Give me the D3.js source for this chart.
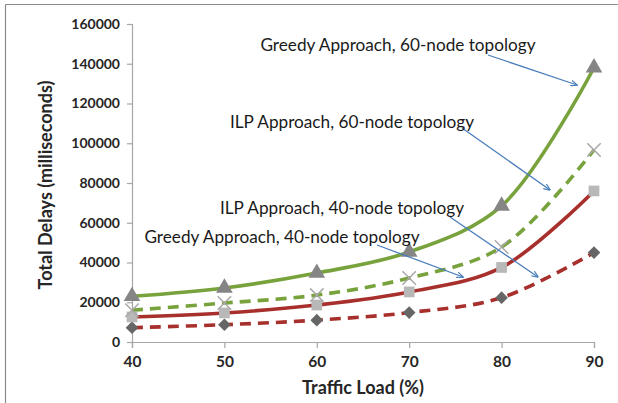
<!DOCTYPE html>
<html><head><meta charset="utf-8">
<script src="https://cdn.jsdelivr.net/npm/d3@7"></script>
<style>body{margin:0;background:#fff}svg{display:block}</style>
</head><body>
<svg id="c" width="618" height="403"></svg>
<script>
const loads = [40, 50, 60, 70, 80, 90];
const greedy60 = [23000, 27200, 34700, 45300, 68500, 138000];
const ilp60 = [16000, 19600, 23600, 32200, 47800, 96600];
const ilp40 = [12600, 14600, 18600, 25200, 37500, 76000];
const greedy40 = [7200, 8700, 11000, 14800, 22300, 45000];
const yTicks = [0, 20000, 40000, 60000, 80000, 100000, 120000, 140000, 160000];
const labels = [
  {text: "Greedy Approach, 60-node topology", series: "g60"},
  {text: "ILP Approach, 60-node topology", series: "i60"},
  {text: "ILP Approach, 40-node topology", series: "i40"},
  {text: "Greedy Approach, 40-node topology", series: "g40"}
];

const series = [
  {id: "g60", values: greedy60, color: "#78a23c", dash: null, marker: "triangle", mcolor: "#858585"},
  {id: "i60", values: ilp60, color: "#78a23c", dash: "11,7", marker: "x", mcolor: "#a8a8a8"},
  {id: "i40", values: ilp40, color: "#a8302c", dash: null, marker: "square", mcolor: "#b8b8b8"},
  {id: "g40", values: greedy40, color: "#a8302c", dash: "11,7", marker: "diamond", mcolor: "#666666"}
];

const svg = d3.select("#c");
const font = "Lato, 'Open Sans', sans-serif";

// frame (top and left edges)
svg.append("line").attr("x1", 5.5).attr("y1", 4.5).attr("x2", 618).attr("y2", 4.5).attr("stroke", "#8a8a8a").attr("stroke-width", 1.2);
svg.append("line").attr("x1", 5.5).attr("y1", 4.5).attr("x2", 5.5).attr("y2", 403).attr("stroke", "#8a8a8a").attr("stroke-width", 1.2);

const x = d3.scaleLinear().domain([40, 90]).range([132, 594]);
const y = d3.scaleLinear().domain([0, 160000]).range([342, 24]);

const yAxis = svg.append("g").attr("transform", "translate(132,0)")
  .call(d3.axisLeft(y).tickValues(yTicks).tickSize(5).tickPadding(7).tickFormat(d3.format("d")));
const xAxis = svg.append("g").attr("transform", "translate(0,342)")
  .call(d3.axisBottom(x).tickValues(loads).tickSize(6).tickPadding(8).tickFormat(d3.format("d")));
[yAxis, xAxis].forEach(a => {
  a.selectAll(".domain, .tick line").attr("stroke", "#a6a6a6").attr("stroke-width", 1.2);
  a.selectAll("text").attr("font-family", font).attr("font-weight", "bold").attr("fill", "#262626");
});
yAxis.selectAll("text").attr("font-size", 14);
xAxis.selectAll("text").attr("font-size", 15.5);

svg.append("text").attr("x", 363).attr("y", 394).attr("text-anchor", "middle")
  .attr("font-family", font).attr("font-weight", "bold").attr("font-size", 18).attr("fill", "#262626")
  .text("Traffic Load (%)");
svg.append("text").attr("transform", "translate(52,185) rotate(-90)").attr("text-anchor", "middle")
  .attr("font-family", font).attr("font-weight", "bold").attr("font-size", 18).attr("fill", "#262626")
  .text("Total Delays (milliseconds)");

const line = d3.line().x((d, i) => x(loads[i])).y(d => y(d)).curve(d3.curveCatmullRom.alpha(0.5));

series.slice().reverse().forEach(s => {
  svg.append("path").datum(s.values).attr("d", line).attr("fill", "none")
    .attr("stroke", s.color).attr("stroke-width", 3.6).attr("stroke-dasharray", s.dash);
});
series.slice().reverse().forEach(s => {
  const g = svg.append("g");
  s.values.forEach((v, i) => {
    const cx = x(loads[i]), cy = y(v);
    if (s.marker === "triangle") {
      g.append("path").attr("d", d3.symbol(d3.symbolTriangle, 120)()).attr("transform", `translate(${cx},${cy})`).attr("fill", s.mcolor);
    } else if (s.marker === "square") {
      g.append("path").attr("d", d3.symbol(d3.symbolSquare, 115)()).attr("transform", `translate(${cx},${cy})`).attr("fill", s.mcolor);
    } else if (s.marker === "diamond") {
      g.append("path").attr("d", d3.symbol(d3.symbolSquare, 80)()).attr("transform", `translate(${cx},${cy}) rotate(45)`).attr("fill", s.mcolor);
    } else {
      g.append("path").attr("d", d3.symbol(d3.symbolTimes, 120)()).attr("transform", `translate(${cx},${cy})`).attr("fill", "none").attr("stroke", s.mcolor).attr("stroke-width", 1.5);
    }
  });
});

// annotations
const ann = [
  {tx: 398, ty: 51, x1: 488, y1: 55, x2: 577, y2: 85},
  {tx: 352, ty: 128, x1: 462, y1: 128, x2: 550, y2: 190},
  {tx: 342, ty: 214, x1: 450, y1: 217, x2: 538, y2: 277},
  {tx: 282, ty: 243, x1: 377, y1: 245, x2: 463, y2: 277}
];
svg.append("defs").append("marker").attr("id", "ah").attr("viewBox", "0 0 10 10").attr("refX", 9).attr("refY", 5)
  .attr("markerWidth", 7).attr("markerHeight", 7).attr("orient", "auto").attr("markerUnits", "userSpaceOnUse")
  .append("path").attr("d", "M0,1 L10,5 L0,9").attr("fill", "none").attr("stroke", "#4a7ebb").attr("stroke-width", 1.6);
labels.forEach((l, i) => {
  const a = ann[i];
  svg.append("line").attr("x1", a.x1).attr("y1", a.y1).attr("x2", a.x2).attr("y2", a.y2)
    .attr("stroke", "#4a7ebb").attr("stroke-width", 1.3).attr("marker-end", "url(#ah)");
  svg.append("text").attr("x", a.tx).attr("y", a.ty).attr("text-anchor", "middle")
    .attr("font-family", font).attr("font-size", 17.2).attr("fill", "#1a1a1a").text(l.text);
});
</script>
</body></html>
